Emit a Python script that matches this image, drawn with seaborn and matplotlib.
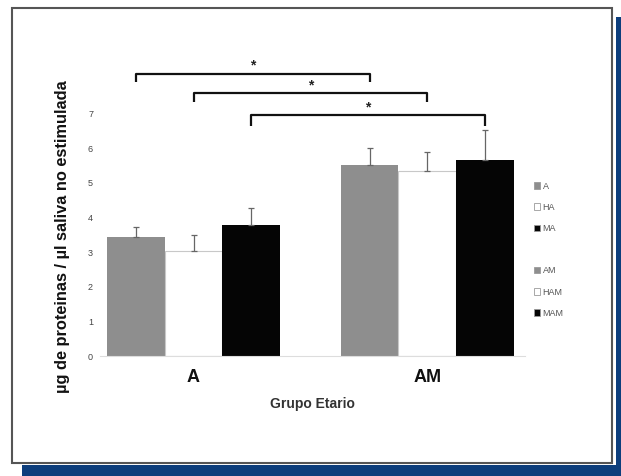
import matplotlib
matplotlib.use("Agg")
import matplotlib.pyplot as plt
import seaborn as sns
import pandas as pd
import numpy as np
from matplotlib.patches import Rectangle, Patch

# ---- data ----
groups = ["A", "AM"]
series = ["Total", "H", "M"]
vals_A = [3.43, 3.02, 3.78]
vals_AM = [5.51, 5.34, 5.67]
err_A = [0.30, 0.47, 0.48]
err_AM = [0.50, 0.55, 0.85]
legend_labels = ["A", "HA", "MA", "", "AM", "HAM", "MAM"]
bracket_pairs = [(0, 0), (1, 1), (2, 2)]   # series index compared A vs AM
bracket_y = [8.15, 7.58, 6.95]
bracket_drop = [0.25, 0.25, 0.32]
star = "*"
ylabel = "µg de proteinas / µl saliva no estimulada"
xlabel = "Grupo Etario"
yticks = [0, 1, 2, 3, 4, 5, 6, 7]

df = pd.DataFrame({
    "grupo": [g for g in groups for _ in series],
    "serie": series * len(groups),
    "valor": vals_A + vals_AM,
})

sns.set_style("white")
plt.rcParams["font.family"] = ["Liberation Sans", "DejaVu Sans"]

fig = plt.figure(figsize=(6.21, 4.76), dpi=100)
fig.patch.set_facecolor("white")
ax = fig.add_axes([100 / 621, 1 - 356 / 476, 425 / 621, 298 / 476])

palette = {"Total": "#8e8e8e", "H": "#ffffff", "M": "#050505"}
sns.barplot(data=df, x="grupo", y="valor", hue="serie", hue_order=series,
            order=groups, palette=palette, width=0.74, ax=ax,
            errorbar=None, legend=False, edgecolor="none", saturation=1)

patches = [p for p in ax.patches if p.get_height() > 0]
patches = sorted(patches, key=lambda p: p.get_x())
centers = [p.get_x() + p.get_width() / 2 for p in patches]
heights = [p.get_height() for p in patches]
for p in patches:
    if p.get_facecolor()[0] > 0.9:
        p.set_edgecolor("#c8c8c8")
        p.set_linewidth(0.8)

errs = err_A + err_AM
ax.errorbar(centers, heights, yerr=[np.zeros(len(errs)), errs], fmt="none",
            ecolor="#666666", elinewidth=0.9, capsize=2.5, capthick=0.9, zorder=3)

# significance brackets
nser = len(series)
for (i, j), yb, d in zip(bracket_pairs, bracket_y, bracket_drop):
    x1 = centers[i]
    x2 = centers[nser + j]
    ax.plot([x1, x1, x2, x2], [yb - d, yb, yb, yb - d], color="#111111", lw=1.6,
            solid_capstyle="butt", clip_on=False)
    ax.text((x1 + x2) / 2, yb + 0.03, star, ha="center", va="bottom",
            fontsize=10, fontweight="bold", color="#222222")

ax.set_xlim(-0.40, 1.418)
ax.set_ylim(0, 8.6)
ax.set_yticks(yticks)
ax.set_yticklabels([str(t) for t in yticks], fontsize=6.5, color="#444444")
ax.tick_params(axis="y", length=0, pad=5)
ax.tick_params(axis="x", length=0, pad=9)
for lab in ax.get_xticklabels():
    lab.set_fontsize(13)
    lab.set_fontweight("bold")
    lab.set_color("#111111")
ax.set_xlabel(xlabel, fontsize=10, fontweight="bold", color="#333333", labelpad=8)
ax.set_ylabel(ylabel, fontsize=11.8, fontweight="bold", color="#111111")
ax.yaxis.set_label_coords(-0.07, 0.40)
for s in ["top", "right", "left"]:
    ax.spines[s].set_visible(False)
ax.spines["bottom"].set_color("#dddddd")
ax.spines["bottom"].set_linewidth(0.8)
ax.set_facecolor("none")

# legend
cols = [palette["Total"], palette["H"], palette["M"]]
handles = []
for c in cols:
    handles.append(Patch(facecolor=c, edgecolor="#9a9a9a", linewidth=0.6))
handles.append(Patch(facecolor="none", edgecolor="none"))
for c in cols:
    handles.append(Patch(facecolor=c, edgecolor="#9a9a9a", linewidth=0.6))
leg = fig.legend(handles, legend_labels, loc="upper left",
                 bbox_to_anchor=(530 / 621, 1 - 178 / 476), frameon=False,
                 fontsize=6.5, handlelength=0.7, handleheight=0.7,
                 handletextpad=0.3, labelspacing=1.35, borderaxespad=0)
for t in leg.get_texts():
    t.set_color("#555555")

# page frame and blue shadow
fig.add_artist(Rectangle((22 / 621, 0), 599 / 621, 11 / 476,
                         transform=fig.transFigure, facecolor="#0d3e7c",
                         edgecolor="none", zorder=0))
fig.add_artist(Rectangle((616 / 621, 0), 5 / 621, 459 / 476,
                         transform=fig.transFigure, facecolor="#0d3e7c",
                         edgecolor="none", zorder=0))
fig.add_artist(Rectangle((12 / 621, 1 - 463 / 476), 600 / 621, 455 / 476,
                         transform=fig.transFigure, facecolor="none",
                         edgecolor="#555555", linewidth=1.5, zorder=1))

fig.savefig("out.png", dpi=100)
